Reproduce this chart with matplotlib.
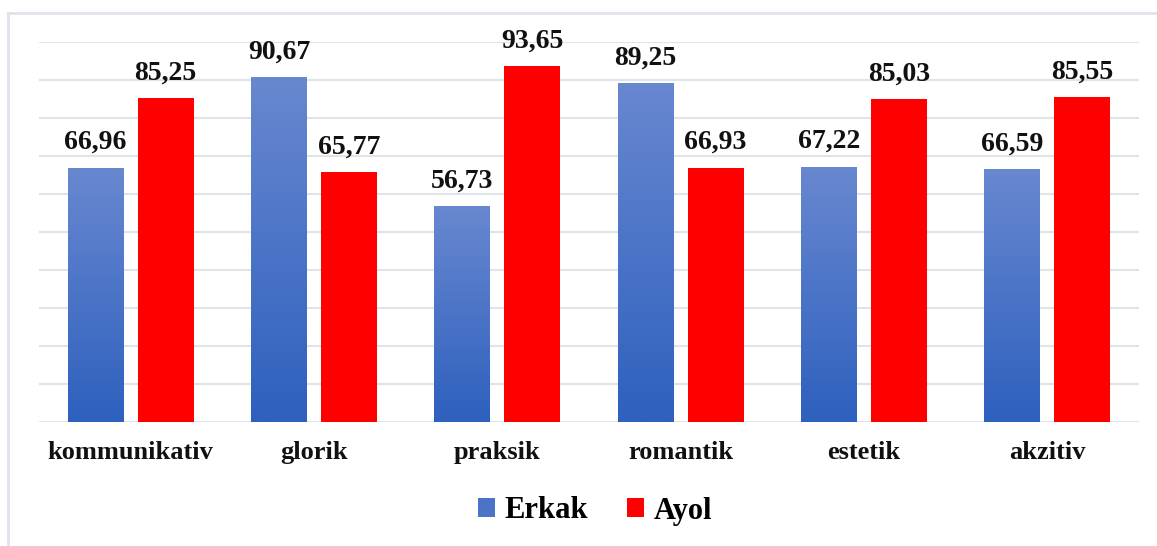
import numpy as np
import matplotlib.pyplot as plt
from matplotlib.lines import Line2D
from matplotlib.patches import Patch

categories = ['kommunikativ', 'glorik', 'praksik', 'romantik', 'estetik', 'akzitiv']
erkak = [66.96, 90.67, 56.73, 89.25, 67.22, 66.59]
ayol = [85.25, 65.77, 93.65, 66.93, 85.03, 85.55]
series_names = ['Erkak', 'Ayol']

plt.rcParams['font.family'] = ['Liberation Serif', 'DejaVu Serif']
plt.rcParams['font.weight'] = 'bold'

fig = plt.figure(figsize=(11.57, 5.46), dpi=100)
ax = fig.add_axes([39 / 1157, 1 - 422 / 546, 1100 / 1157, 380 / 546])

# chart frame
fig.add_artist(Line2D([8 / 1157, 1], [1 - 13 / 546, 1 - 13 / 546], transform=fig.transFigure,
                      color='#dfe3ea', lw=2))
fig.add_artist(Line2D([8 / 1157, 8 / 1157], [0, 1 - 13 / 546], transform=fig.transFigure,
                      color='#dfe3ea', lw=2))

x = np.arange(len(categories))
w = 0.305
off = 0.191
red = '#ff0000'
grad_top = np.array([104, 136, 208]) / 255
grad_bot = np.array([46, 96, 190]) / 255

bars_e = ax.bar(x - off, erkak, w, color=grad_bot, zorder=2)
bars_a = ax.bar(x + off, ayol, w, color=red, zorder=2)

# vertical gradient on the blue bars
t = np.linspace(0, 1, 256)[:, None]
grad = grad_top[None, None, :] * (1 - t[..., None]) + grad_bot[None, None, :] * t[..., None]
for b in bars_e:
    bx, by = b.get_x(), b.get_y()
    bw, bh = b.get_width(), b.get_height()
    im = ax.imshow(grad, extent=[bx, bx + bw, by, by + bh], aspect='auto',
                   origin='upper', zorder=3)
    im.set_clip_path(b)

for bars, vals in [(bars_e, erkak), (bars_a, ayol)]:
    for b, v in zip(bars, vals):
        ax.text(b.get_x() + b.get_width() / 2, v + 3.3, f'{v:.2f}'.replace('.', ','),
                ha='center', va='bottom', fontsize=20, fontweight='bold', color='#111111')

ax.set_xlim(-0.5, len(categories) - 0.5)
ax.set_ylim(0, 100)
ax.set_yticks(np.arange(0, 101, 10))
ax.set_yticklabels([])
ax.tick_params(axis='y', length=0)
ax.yaxis.grid(True, color='#dfe3ea', lw=1.5, zorder=0)
ax.set_axisbelow(True)
ax.set_xticks(x)
ax.set_xticklabels(categories, fontsize=19, fontweight='bold', color='#111111')
ax.tick_params(axis='x', length=0, pad=14)
for s in ax.spines.values():
    s.set_visible(False)

handles = [Patch(facecolor=grad_top * 0.5 + grad_bot * 0.5), Patch(facecolor=red)]
fig.legend(handles, series_names, loc='center', bbox_to_anchor=(595 / 1157, 1 - 511 / 546),
           ncol=2, frameon=False, prop={'size': 22, 'weight': 'bold'},
           handlelength=0.55, handleheight=0.55, handletextpad=0.3, columnspacing=1.3)

fig.savefig('out.png', dpi=100)
